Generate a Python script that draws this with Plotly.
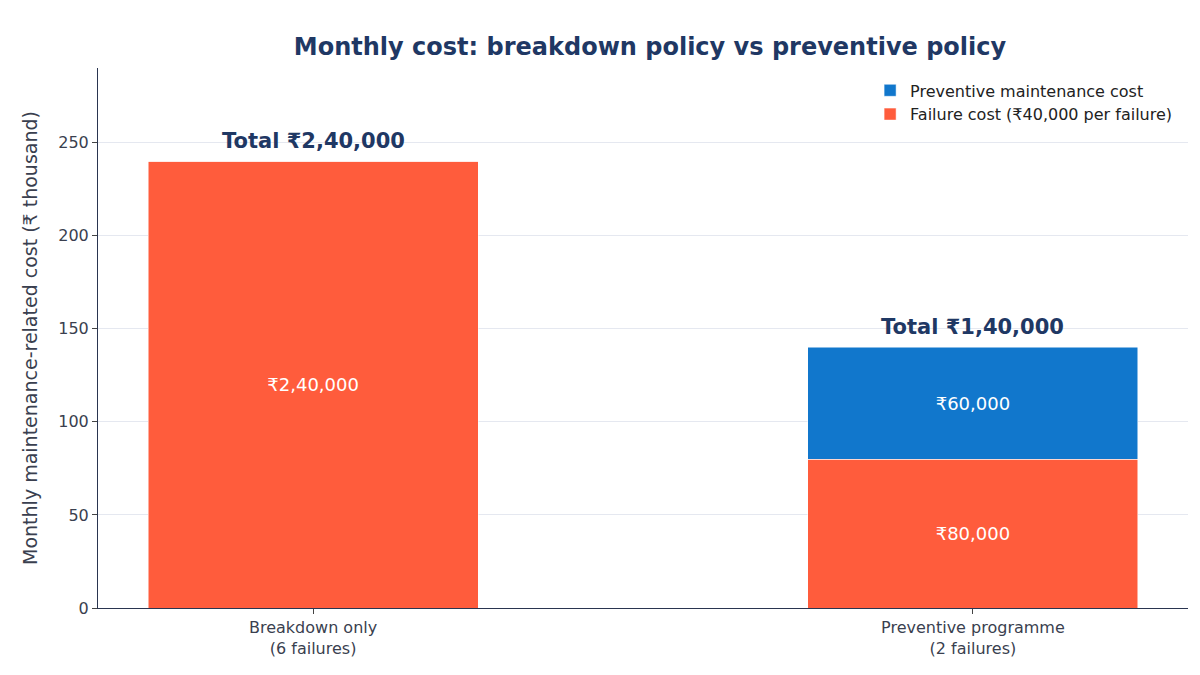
import plotly.graph_objects as go

categories = ["Breakdown only<br>(6 failures)", "Preventive programme<br>(2 failures)"]
failure_cost = [240, 80]
preventive_cost = [0, 60]
failure_labels = ["₹2,40,000", "₹80,000"]
preventive_labels = ["", "₹60,000"]
totals = [240, 140]
total_labels = ["Total ₹2,40,000", "Total ₹1,40,000"]
xpos = [0, 1]

fig = go.Figure()
fig.add_bar(x=xpos, y=failure_cost, width=0.5, marker_color="#FF5C3C",
            name="Failure cost (₹40,000 per failure)", text=failure_labels,
            textposition="inside", insidetextanchor="middle",
            textfont=dict(color="white", size=18, family="DejaVu Sans"))
fig.add_bar(x=xpos, y=preventive_cost, width=0.5, marker_color="#1177CC",
            name="Preventive maintenance cost", text=preventive_labels,
            textposition="inside", insidetextanchor="middle",
            textfont=dict(color="white", size=18, family="DejaVu Sans"))
for x, t, lab in zip(xpos, totals, total_labels):
    fig.add_annotation(x=x, y=t, text="<b>" + lab + "</b>", showarrow=False,
                       yshift=20, font=dict(size=21, color="#1F3864"))

fig.update_layout(
    barmode="stack", width=1200, height=675, template="plotly_white",
    font=dict(family="DejaVu Sans", size=16, color="#3a3f4f"),
    title=dict(text="<b>Monthly cost: breakdown policy vs preventive policy</b>",
               x=0.535, y=0.955, font=dict(size=24, color="#1F3864")),
    margin=dict(l=90, r=20, t=60, b=75),
    legend=dict(x=0.99, y=0.99, xanchor="right", yanchor="top",
                bgcolor="rgba(0,0,0,0)", font=dict(size=16, color="#222")),
    xaxis=dict(tickvals=xpos, ticktext=categories, range=[-0.326, 1.326],
               showline=True, linecolor="#2a3550", showgrid=False, ticks="outside"),
    yaxis=dict(range=[0, 290], tickvals=[0, 50, 100, 150, 200, 250],
               title=dict(text="Monthly maintenance-related cost (₹ thousand)", font=dict(size=19)),
               showline=True, linecolor="#2a3550", gridcolor="#e5e8f0", ticks="outside",
               zeroline=False),
    uniformtext=dict(mode="show", minsize=10),
)
fig.write_html("out.html")
